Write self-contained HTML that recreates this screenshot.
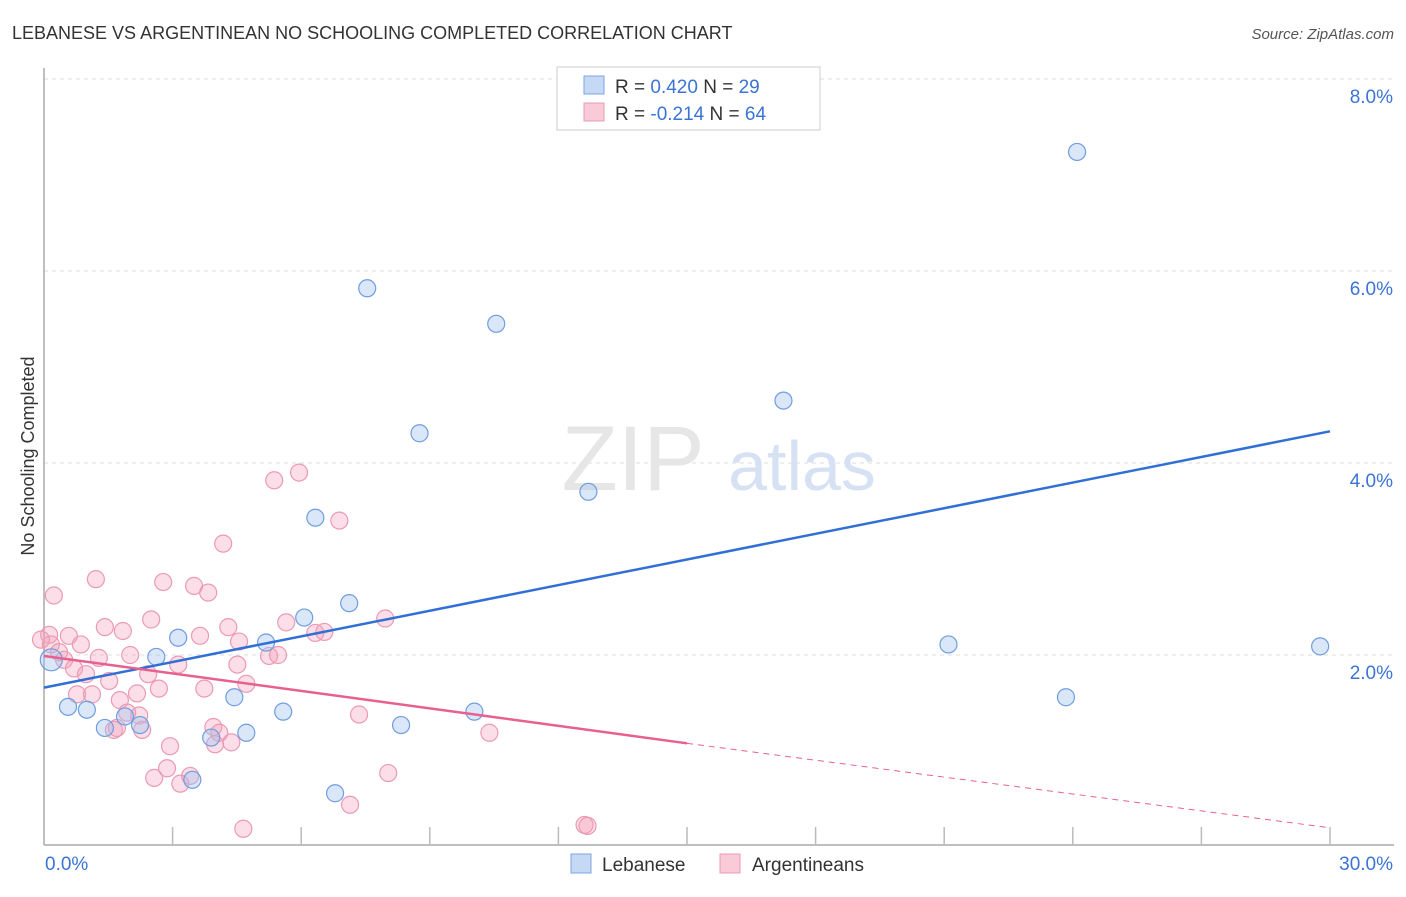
<!DOCTYPE html>
<html><head><meta charset="utf-8"><style>
body{margin:0;background:#fff;font-family:"Liberation Sans",sans-serif;}
svg text{font-family:"Liberation Sans",sans-serif;}
</style></head><body>
<svg width="1406" height="892" viewBox="0 0 1406 892">
<text x="12" y="39" font-size="18" fill="#333">LEBANESE VS ARGENTINEAN NO SCHOOLING COMPLETED CORRELATION CHART</text>
<text x="1394" y="39" font-size="15" fill="#555" text-anchor="end" font-style="italic">Source: ZipAtlas.com</text>
<g id="grid"></g>
<text x="633" y="490" font-size="92" fill="#e6e6e6" font-family="Liberation Serif" text-anchor="middle">ZIP</text>
<text x="802" y="490" font-size="70" fill="#d6e2f4" text-anchor="middle">atlas</text>
<g id="axes"></g>
<g id="marks"></g>
<text transform="translate(34,456) rotate(-90)" font-size="18" fill="#333" text-anchor="middle">No Schooling Completed</text>
<g>
<rect x="557" y="67" width="263" height="63" fill="#fff" stroke="#ccc"/>
<rect x="584" y="76" width="20" height="18" fill="#c5d9f5" stroke="#7aa5e2"/>
<rect x="584" y="103" width="20" height="18" fill="#f9cbd9" stroke="#ec9ab4"/>
<text x="615" y="93" font-size="19" fill="#333">R = <tspan fill="#3b74d4">0.420</tspan>   N = <tspan fill="#3b74d4">29</tspan></text>
<text x="615" y="120" font-size="19" fill="#333">R = <tspan fill="#3b74d4">-0.214</tspan>   N = <tspan fill="#3b74d4">64</tspan></text>
</g>
<g>
<rect x="571" y="854" width="20" height="19" fill="#c5d9f5" stroke="#7aa5e2"/>
<text x="602" y="871" font-size="19" fill="#333">Lebanese</text>
<rect x="720" y="854" width="20" height="19" fill="#f9cbd9" stroke="#ec9ab4"/>
<text x="752" y="871" font-size="19" fill="#333">Argentineans</text>
</g>
</svg>
<script>
const blueX=[0.17,0.56,1.0,1.42,1.89,2.24,2.62,3.13,3.46,3.9,4.44,4.72,5.18,5.58,6.07,6.33,6.79,7.12,7.54,8.33,8.76,10.04,10.55,12.7,17.25,21.1,23.84,24.1,29.77];
const blueY=[1.95,1.46,1.43,1.24,1.36,1.27,1.98,2.18,0.70,1.14,1.56,1.19,2.13,1.41,2.39,3.43,0.56,2.54,5.82,1.27,4.31,1.41,5.45,3.70,4.65,2.11,1.56,7.24,2.09];
const pinkX=[0.23,0.12,0.16,0.35,0.47,0.58,0.70,0.86,0.98,0.77,1.12,1.21,1.28,1.42,1.52,1.63,1.70,1.77,1.84,1.94,2.01,2.17,2.22,2.29,2.43,2.50,2.57,2.68,2.78,2.87,2.94,3.13,3.18,3.41,3.50,3.64,3.74,3.83,3.95,4.09,4.18,4.30,4.37,4.51,4.55,4.65,4.72,5.25,5.37,5.46,5.65,5.95,6.33,6.54,6.89,7.14,7.35,7.96,8.03,10.39,12.61,12.68,-0.07,3.99];
const pinkY=[2.62,2.21,2.11,2.03,1.95,2.20,1.86,2.11,1.80,1.59,1.59,2.79,1.97,2.29,1.73,1.22,1.24,1.53,2.25,1.40,2.00,1.60,1.37,1.22,1.80,2.37,0.72,1.65,2.76,0.82,1.05,1.90,0.66,0.74,2.72,2.20,1.65,2.65,1.25,1.19,3.16,2.29,1.09,1.90,2.14,0.19,1.70,1.99,3.82,2.00,2.34,3.90,2.23,2.24,3.40,0.44,1.38,2.38,0.77,1.19,0.23,0.22,2.16,1.07];
const xTicks=[3,6,9,12,15,18,21,24,27,30];
const yTicks=[2,4,6,8];
const yTickLabels=["2.0%","4.0%","6.0%","8.0%"];
const blueTrend=[0,1.66,30,4.33];
const pinkTrend=[0,1.99,15,1.08,30,0.2];
const X0=44,X1=1330,Y0=847,YS=96;
const sx=v=>X0+(v/30)*(X1-X0);
const sy=v=>Y0-v*YS;
const NS='http://www.w3.org/2000/svg';
function mk(parent,tag,attrs){const e=document.createElementNS(NS,tag);for(const k in attrs)e.setAttribute(k,attrs[k]);document.getElementById(parent).appendChild(e);return e;}
yTicks.forEach((t,i)=>{
 const g=mk('grid','line',{x1:X0,x2:1394,y1:sy(t),y2:sy(t),stroke:'#ddd','stroke-dasharray':'4,4'});
 
 
 const l=mk('axes','text',{x:1393,y:sy(t)+24,'font-size':19,fill:'#3b74d4','text-anchor':'end'});
 l.textContent=yTickLabels[i];
 
 
});
const tg=mk('grid','line',{x1:X0,x2:1394,y1:79,y2:79,stroke:'#ddd','stroke-dasharray':'4,4'});


const ya=mk('axes','line',{x1:X0,x2:X0,y1:68,y2:845,stroke:'#aaa','stroke-width':1.5});


const xa=mk('axes','line',{x1:X0,x2:1394,y1:845,y2:845,stroke:'#aaa','stroke-width':1.5});


xTicks.forEach(t=>{
 const k=mk('axes','line',{x1:sx(t),x2:sx(t),y1:827,y2:845,stroke:'#bbb','stroke-width':1.5});
 
 
});
const xl0=mk('axes','text',{x:45,y:870,'font-size':19,fill:'#3b74d4'});xl0.textContent='0.0%';


const xl1=mk('axes','text',{x:1393,y:870,'font-size':19,fill:'#3b74d4','text-anchor':'end'});xl1.textContent='30.0%';


pinkX.forEach((v,i)=>{
 const c=mk('marks','circle',{cx:sx(v),cy:sy(pinkY[i]),r:8.5,fill:'rgba(244,160,186,0.35)',stroke:'#ec9ab4','stroke-width':1.2});
 
 
});
blueX.forEach((v,i)=>{
 const c=mk('marks','circle',{cx:sx(v),cy:sy(blueY[i]),r:i==0?11:8.5,fill:'rgba(160,195,240,0.4)',stroke:'#6f9de0','stroke-width':1.2});
 
 
});
const bt=mk('marks','line',{x1:sx(blueTrend[0]),y1:sy(blueTrend[1]),x2:sx(blueTrend[2]),y2:sy(blueTrend[3]),stroke:'#2f6fd6','stroke-width':2.5});


const pt=mk('marks','line',{x1:sx(pinkTrend[0]),y1:sy(pinkTrend[1]),x2:sx(pinkTrend[2]),y2:sy(pinkTrend[3]),stroke:'#e8608f','stroke-width':2.5});


const pd=mk('marks','line',{x1:sx(pinkTrend[2]),y1:sy(pinkTrend[3]),x2:sx(pinkTrend[4]),y2:sy(pinkTrend[5]),stroke:'#e8608f','stroke-width':1,'stroke-dasharray':'6,5'});


</script>
</body></html>
